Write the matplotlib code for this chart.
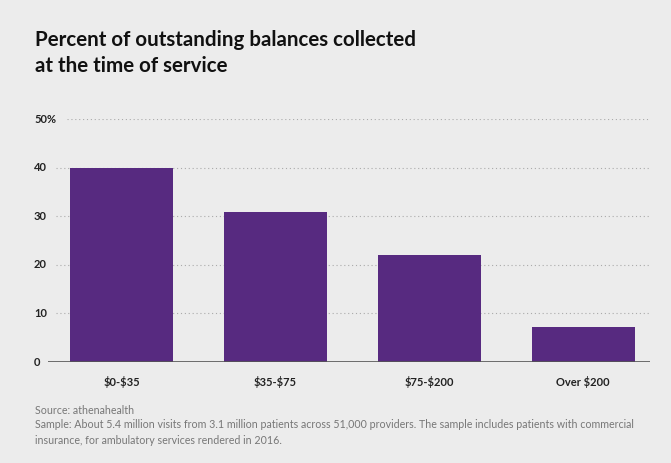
import matplotlib
matplotlib.use("Agg")
import matplotlib.pyplot as plt
import matplotlib.transforms as mtransforms

categories = ["\\$0-\\$35", "\\$35-\\$75", "\\$75-\\$200", "Over \\$200"]
values = [40.0, 30.8, 22.1, 7.1]
y_ticks = [0, 10, 20, 30, 40, 50]
y_tick_labels = ["0", "10", "20", "30", "40", "50%"]

title = "Percent of outstanding balances collected\nat the time of service"
source = "Source: athenahealth"
note = ("Sample: About 5.4 million visits from 3.1 million patients across 51,000 providers. The sample includes patients with commercial\n"
        "insurance, for ambulatory services rendered in 2016.")

BG = "#ececec"
BAR = "#572a80"
W, H = 671, 463
plt.rcParams['font.family'] = ['Lato', 'DejaVu Sans']

fig = plt.figure(figsize=(W / 100, H / 100), dpi=100, facecolor=BG)
ax = fig.add_axes([48 / W, 1 - 362 / H, (650 - 48) / W, (362 - 119) / H])
ax.set_facecolor(BG)

x = list(range(len(categories)))
ax.bar(x, values, width=0.67, color=BAR, zorder=3)
ax.set_xlim(-0.477, 3.435)
ax.set_ylim(0, 50)

for t in y_ticks[1:]:
    start = 0.032 if t == 50 else 0.013
    ax.axhline(t, xmin=start, xmax=1, color="#aaaaaa", lw=0.8,
               linestyle=(0, (1, 2.5)), zorder=1)
ax.axhline(0, color="#555555", lw=1.2, zorder=4)

for s in ax.spines.values():
    s.set_visible(False)
ax.set_yticks([])
ax.set_xticks(x)
ax.set_xticklabels(categories, fontsize=8, fontweight="bold", color="#222222")
ax.tick_params(axis="x", length=0, pad=10)

trans = mtransforms.blended_transform_factory(fig.transFigure, ax.transData)
for t, lab in zip(y_ticks, y_tick_labels):
    ax.text(34 / W, t, lab, transform=trans, ha="left", va="center",
            fontsize=8, fontweight="bold", color="#222222")

fig.text(35 / W, 1 - 30 / H, title, ha="left", va="top", fontsize=14.8,
         fontweight="bold", color="#111111", linespacing=1.35)
fig.text(35 / W, 1 - 410 / H, source, ha="left", va="center", fontsize=7.7, color="#777777")
fig.text(35 / W, 1 - 432.5 / H, note, ha="left", va="center", fontsize=7.7, color="#777777",
         linespacing=1.5)

fig.savefig("out.png", dpi=100, facecolor=BG)
